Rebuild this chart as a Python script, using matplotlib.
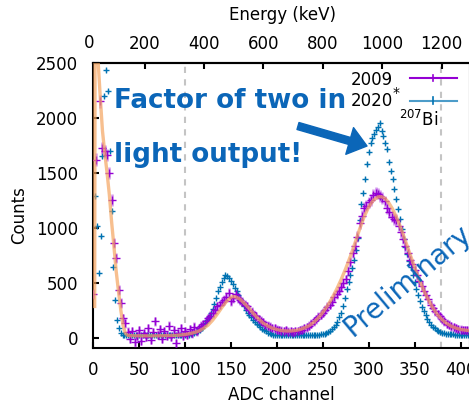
import numpy as np
import matplotlib
matplotlib.use('Agg')
import matplotlib.pyplot as plt
from matplotlib.lines import Line2D

#### Colours (gnuplot-like)
purple = '#9400d3'
blue = '#0072b2'
orange = '#f4a460'
txtblue = '#0b66b8'

#### 2009 data (ADC channel, counts)
ch2009 = np.arange(0, 411, 2.5)
counts2009 = [400, 1620, 2900, 2150, 1725, 1694, 1663, 1497, 1254, 861, 724, 436, 315, 179, 133, 57,
              -10, 60, -40, 20, 70, -30, 40, 10, 90, -20, 50, 150, 30, 80, -10, 60, 20, 110, 10, 70,
              -50, 40, 90, 20, 60, 30, 80, 40, 100, 60, 90,
              110, 125, 150, 180, 200, 225, 250, 285, 300, 330, 345, 370,
              405, 335, 360, 395, 360, 345, 330, 300, 285, 255, 235, 210, 195, 170, 155, 140, 120, 110,
              100, 90, 85, 75,
              70, 65, 60, 72, 55, 60, 50, 58, 62, 70, 75, 85, 95, 110, 130, 150, 170, 190, 210, 230,
              255, 280, 300, 330, 370, 400, 430, 460, 500, 530, 610, 690, 770, 830, 920, 1040, 1110,
              1180, 1200, 1230,
              1250, 1300, 1315, 1310, 1290, 1270, 1240, 1180, 1140, 1100, 1080, 1070, 1020, 960, 900,
              830, 770, 710, 670, 620,
              570, 520, 470, 430, 385, 350, 300, 270, 240, 215, 195, 170, 150, 130, 118, 105, 95, 88,
              80, 75,
              72, 70, 68, 65]

#### 2020 data
ch2020 = np.arange(2, 410, 2)
counts2020 = [1285, 1012, 588, 921, 1648, 2194, 2436, 2240, 1694, 1150, 648, 345, 164, 88, 45, 30, 24, 22,
              25, 22, 24, 27, 23, 21, 25, 26, 22, 24, 28, 23, 22, 25, 27, 24, 21, 23, 26, 25, 22, 24,
              27, 23, 25, 22, 26, 24, 23, 25, 27,
              27, 28, 30, 33, 37, 42, 50, 60, 73, 90,
              110, 132, 158, 190, 222, 262, 305, 360, 425, 465,
              503, 540, 573, 565, 540, 515, 488, 455, 422, 391,
              355, 320, 285, 252, 228, 205, 185, 165, 148, 130,
              113, 98, 82, 70, 58, 48, 40, 34, 29, 26,
              25, 24, 23, 25, 24, 22, 23, 24, 25, 23, 22, 24, 25, 23, 24, 26, 25, 24, 26, 27, 26, 28,
              29, 30, 32,
              35, 39, 45, 53, 64, 78, 95, 118, 148, 185,
              225, 285, 360, 440, 505, 570, 630, 710, 800, 910,
              1070, 1220, 1320, 1445, 1580, 1690, 1770, 1815, 1850, 1890,
              1915, 1950, 1880, 1830, 1770, 1718, 1600, 1512, 1440, 1350,
              1260, 1175, 1080, 990, 900, 825, 760, 700, 640, 570,
              505, 448, 392, 335, 282, 240, 205, 170, 142, 120,
              101, 86, 73, 63, 55, 48, 43, 39, 36, 34,
              32, 31, 30, 30, 29, 29, 28, 28, 28, 27]

#### Fit to 2009 data
fit_ch = [1.5, 2, 5, 7.5, 10, 12.5, 15, 17.5, 20, 22.5, 25, 27.5, 30, 32.5, 35, 37.5, 40,
          50, 60, 70, 80, 90, 100, 105, 110, 115, 120, 125, 130, 135, 140, 145, 150, 152, 155,
          160, 165, 170, 175, 180, 185, 190, 195, 200, 205, 210, 215, 220, 225, 230, 235, 240,
          245, 250, 255, 260, 265, 270, 275, 280, 285, 290, 295, 300, 305, 310, 314, 318, 322,
          326, 330, 335, 340, 345, 350, 355, 360, 365, 370, 375, 380, 385, 390, 395, 400, 405, 410]
fit_val = [285, 3000, 2550, 2200, 1880, 1680, 1500, 1300, 1050, 830, 600, 420, 250, 110, 40, 22, 20,
           18, 18, 18, 20, 22, 30, 38, 48, 62, 85, 115, 160, 215, 275, 330, 368, 375, 372,
           350, 310, 265, 215, 172, 135, 108, 88, 75, 66, 62, 62, 66, 75, 90, 110, 140,
           180, 230, 290, 360, 440, 530, 630, 740, 860, 985, 1100, 1190, 1250, 1280, 1282, 1265, 1225,
           1170, 1100, 1000, 880, 760, 640, 530, 430, 345, 270, 210, 165, 130, 105, 88, 76, 70, 66]

marker_lines = [100, 379]
xticks = np.arange(0, 401, 50)
yticks = np.arange(0, 2501, 500)
eticks = [200, 400, 600, 800, 1000, 1200]

counts2009 = np.array(counts2009, dtype=float)
counts2020 = np.array(counts2020, dtype=float)
err2009 = np.sqrt(np.abs(counts2009) + 1500)
err2020 = 0.4 * np.sqrt(np.abs(counts2020))

#### Plotting
fig = plt.figure(figsize=(4.69, 4.11), dpi=100)
ax = fig.add_axes([0.1989, 0.1526, 0.8026, 0.6949])

for xv in marker_lines:
    ax.axvline(xv, color='#c4c4c4', lw=1.5, ls=(0, (3, 3)), zorder=0)

ax.errorbar(ch2020, counts2020, yerr=err2020, fmt='+', ms=4, mew=1.0, color=blue,
            ecolor=(0.0, 0.45, 0.7, 0.45), elinewidth=1.0, capsize=0, zorder=2)
ax.errorbar(ch2009, counts2009, yerr=err2009, fmt='+', ms=6, mew=1.0, color=purple,
            ecolor=(0.58, 0.0, 0.83, 0.4), elinewidth=1.8, capsize=0, zorder=3)
ax.plot(fit_ch, fit_val, color=orange, lw=2.4, alpha=0.7, zorder=4)

ax.set_xlim(0, 410)
ax.set_ylim(-95, 2500)
ax.set_xticks(xticks)
ax.set_yticks(yticks)
ax.tick_params(direction='in', length=4.5, width=1.5, labelsize=12, top=False, right=False)
ax.tick_params(axis='x', pad=9.5)
ax.tick_params(axis='y', pad=11)
for s in ax.spines.values():
    s.set_linewidth(1.5)

ax.set_xlabel('ADC channel', fontsize=12)
ax.xaxis.set_label_coords(0.499, -0.133)
ax.set_ylabel('Counts', fontsize=12)
ax.yaxis.set_label_coords(-0.173, 0.467)

## top energy axis
sec = ax.secondary_xaxis('top', functions=(lambda c: 3.092 * c + 27, lambda e: (e - 27) / 3.092))
sec.set_xticks(eticks)
sec.tick_params(direction='in', length=4.5, width=1.5, labelsize=12, pad=7)
sec.spines['top'].set_linewidth(1.5)
fig.text(89 / 469, 1 - 43 / 411, '0', ha='center', va='center', fontsize=12)
fig.text(282 / 469, 1 - 15 / 411, 'Energy (keV)', ha='center', va='center', fontsize=12)

## legend (gnuplot style)
def fx(px):
    return px / 469.0

def fy(py):
    return 1 - py / 411.0

fig.text(fx(393), fy(80), '2009', ha='right', va='center', fontsize=12)
fig.text(fx(393), fy(101), '2020', ha='right', va='center', fontsize=12)
fig.text(fx(393), fy(93), '*', ha='left', va='center', fontsize=10)
fig.text(fx(399), fy(126), r'$^{207}$Bi', ha='left', va='baseline', fontsize=12)
for yy, cc, al in [(78, purple, 1.0), (101, blue, 0.7)]:
    fig.add_artist(Line2D([fx(410), fx(457)], [fy(yy), fy(yy)], transform=fig.transFigure,
                          color=cc, lw=1.5, alpha=al))
    fig.add_artist(Line2D([fx(433), fx(433)], [fy(yy - 3.5), fy(yy + 3.5)], transform=fig.transFigure,
                          color=cc, lw=1.2))

## annotations
fig.text(fx(114), fy(108), 'Factor of two in', ha='left', va='baseline', fontsize=18.8,
         fontweight='bold', color=txtblue)
fig.text(fx(114), fy(162), 'light output!', ha='left', va='baseline', fontsize=18.8,
         fontweight='bold', color=txtblue)
ax.annotate('', xy=(fx(367), fy(146)), xytext=(fx(298), fy(126)), xycoords='figure fraction',
            textcoords='figure fraction',
            arrowprops=dict(arrowstyle='simple,head_length=0.65,head_width=1.0,tail_width=0.26',
                            color=txtblue, shrinkA=0, shrinkB=0, mutation_scale=20))
fig.text(fx(352), fy(337), 'Preliminary', ha='left', va='baseline', rotation=40,
         rotation_mode='anchor', fontsize=20, color=txtblue)

fig.savefig('out.png', dpi=100)
